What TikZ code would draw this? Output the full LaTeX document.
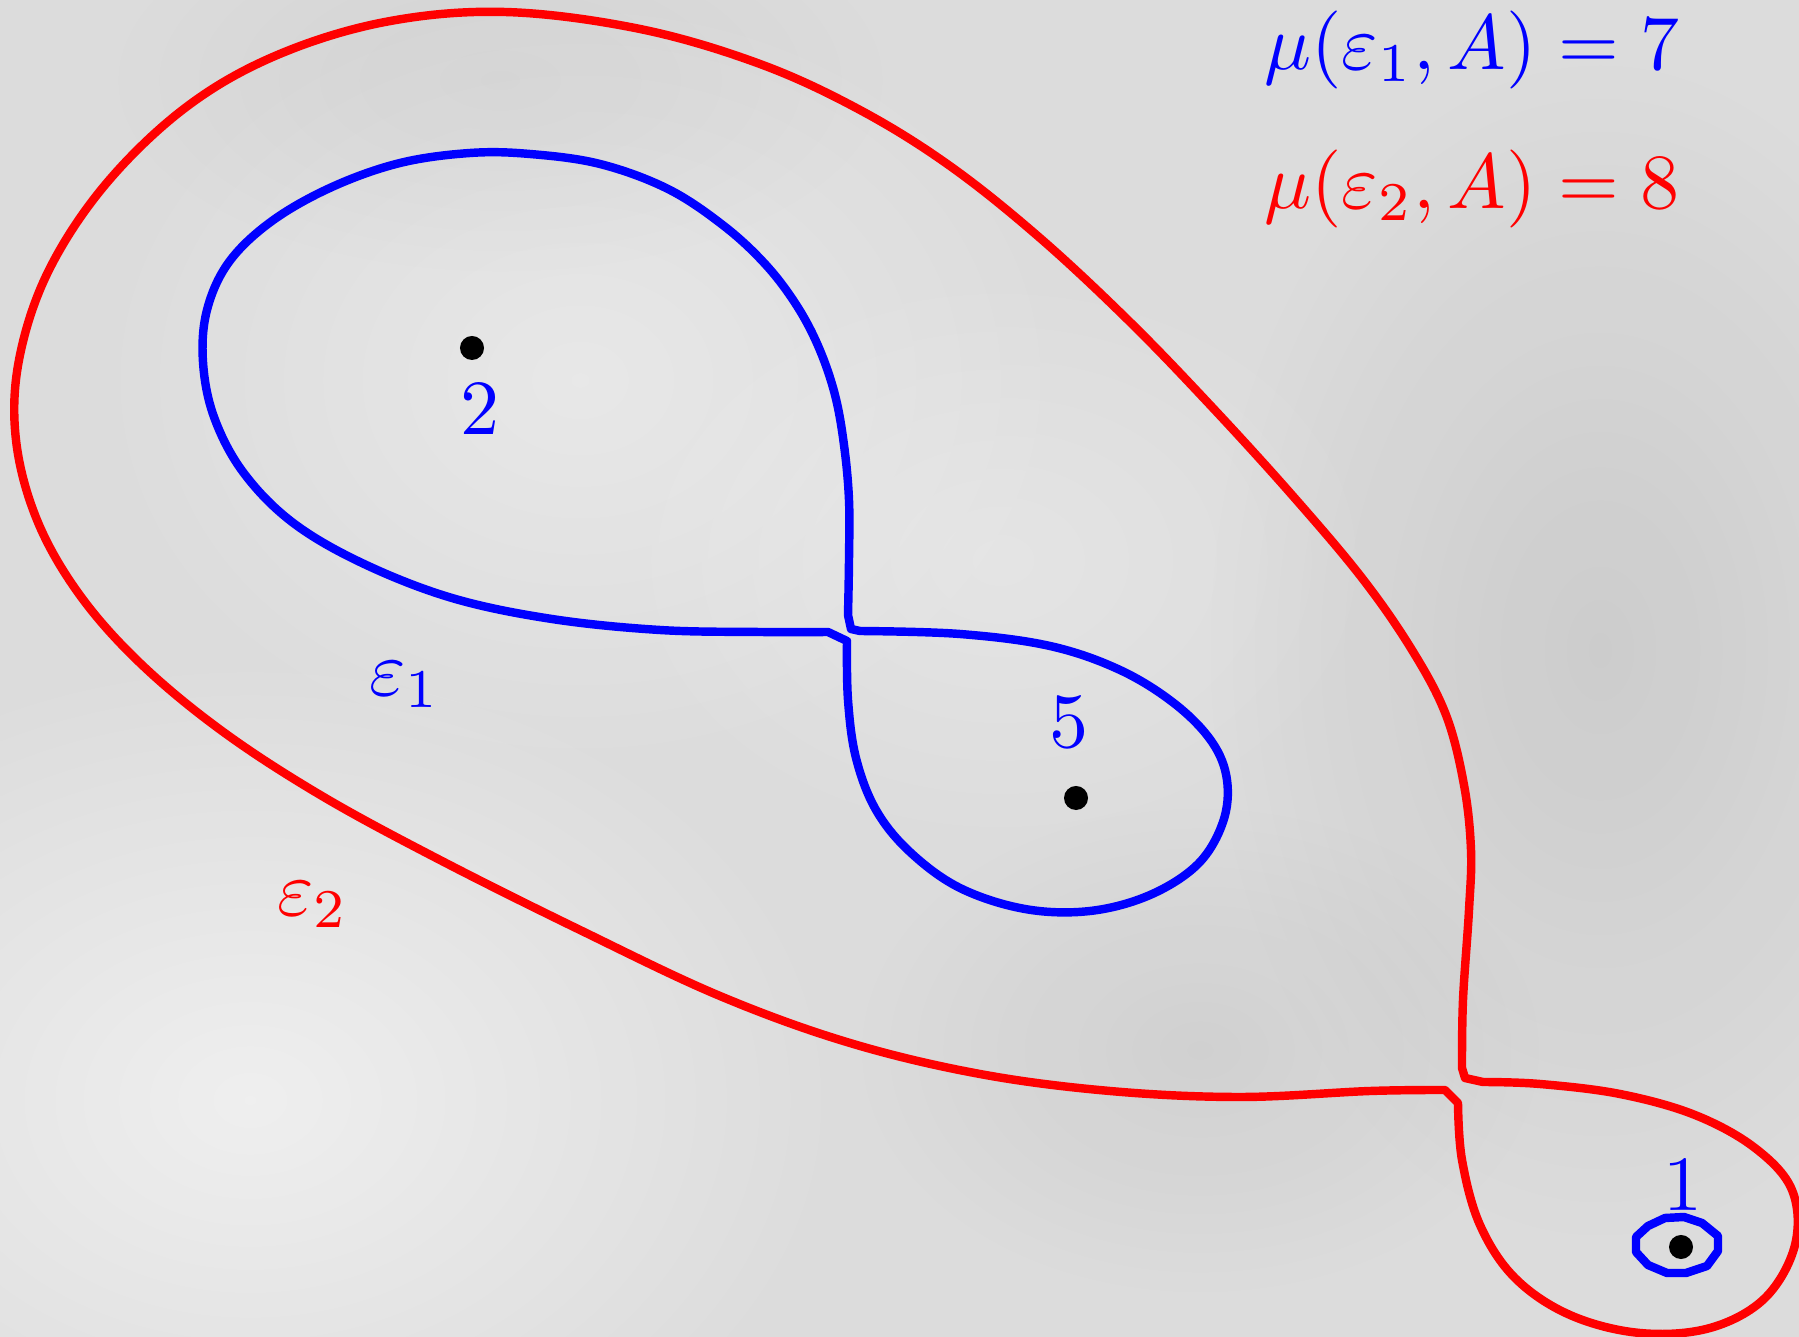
\documentclass[tikz,border=0pt]{standalone}
\usetikzlibrary{fadings}
\definecolor{bg}{RGB}{220,220,220}
\tikzfading[name=softblob, inner color=transparent!0, outer color=transparent!100]
\tikzset{
  curve/.style={line width=2.4pt, line join=round},
  dot/.style={circle, fill=black, inner sep=0pt, minimum size=0.24cm},
  lab/.style={inner sep=0pt, scale=2.22},
  blob/.style={path fading=softblob},
}
\begin{document}
\begin{tikzpicture}[x=0.01cm,y=-0.01cm]
\useasboundingbox (0,0) rectangle (1799,1337);
\fill[bg] (0,0) rectangle (1799,1337);
% soft light/dark blotches of the background
\fill[white, opacity=0.55, blob] (250,1100) circle[x radius=6cm, y radius=4.5cm];
\fill[white, opacity=0.35, blob] (580,380) circle[x radius=5cm, y radius=4cm];
\fill[white, opacity=0.25, blob] (1000,560) circle[x radius=4cm, y radius=3cm];
\fill[black, opacity=0.07, blob] (1600,650) circle[x radius=4cm, y radius=6cm];
\fill[black, opacity=0.05, blob] (1200,1050) circle[x radius=3.5cm, y radius=2.5cm];
\fill[black, opacity=0.04, blob] (500,80) circle[x radius=4cm, y radius=2cm];

% epsilon_2 (red)
\draw[curve, red]
  plot[smooth, tension=0.6] coordinates {(1458,1103) (1462,1160) (1480,1225) (1515,1278) (1570,1315) (1640,1333) (1710,1328) (1765,1298) (1795,1245) (1792,1190) (1755,1148) (1695,1115) (1620,1094) (1540,1084) (1483,1082)}
  -- (1465,1078)
  -- plot[smooth, tension=0.6] coordinates {(1462,1068) (1463,1000) (1469,910) (1471,850) (1464,785) (1446,715) (1412,650) (1362,578) (1292,495) (1212,407) (1130,322) (1040,238) (950,166) (860,110) (760,64) (640,29) (505,12) (385,22) (275,56) (185,108) (105,185) (48,272) (19,360) (16,440) (37,520) (79,594) (140,663) (222,731) (322,796) (440,860) (580,930) (720,996) (850,1043) (980,1074) (1110,1091) (1240,1097) (1370,1091) (1445,1090)}
  -- cycle;

% epsilon_1 (blue)
\draw[curve, blue]
  plot[smooth, tension=0.6] coordinates {(847,641) (848,700) (856,758) (876,810) (910,852) (960,888) (1025,909) (1090,911) (1150,895) (1198,864) (1223,822) (1227,780) (1212,742) (1175,704) (1120,670) (1050,646) (960,634) (860,631)}
  -- (851,629)
  -- plot[smooth, tension=0.6] coordinates {(848,615) (849,560) (849,500) (844,445) (835,395) (819,348) (797,306) (766,265) (724,226) (668,189) (600,164) (530,154) (470,153) (400,163) (332,187) (272,221) (229,262) (207,310) (203,362) (214,417) (243,472) (292,522) (362,563) (452,598) (552,619) (660,630) (760,632) (828,632)}
  -- cycle;

% small blue loop around point 1
\draw[curve, blue] (1636,1237) -- (1648,1226) -- (1665,1218) -- (1684,1217) -- (1702,1223) -- (1718,1236) -- (1718,1251) -- (1707,1266) -- (1686,1273) -- (1667,1273) -- (1648,1265) -- (1636,1252) -- cycle;

% points
\node[dot] (p2) at (472,348) {};
\node[dot] (p5) at (1076,798) {};
\node[dot] (p1) at (1681,1247) {};

% labels
\node[lab, text=blue] (l2) at (480,409) {$2$};
\node[lab, text=blue] (l5) at (1069,722) {$5$};
\node[lab, text=blue] (l1) at (1683,1185) {$1$};
\node[lab, text=blue] (e1) at (405,685) {$\varepsilon_1$};
\node[lab, text=red] (e2) at (313,905) {$\varepsilon_2$};
\node[lab, text=blue, anchor=base west] (m1) at (1263,70) {$\mu(\varepsilon_1, A) = 7$};
\node[lab, text=red, anchor=base west] (m2) at (1263,209) {$\mu(\varepsilon_2, A) = 8$};
\end{tikzpicture}
\end{document}
